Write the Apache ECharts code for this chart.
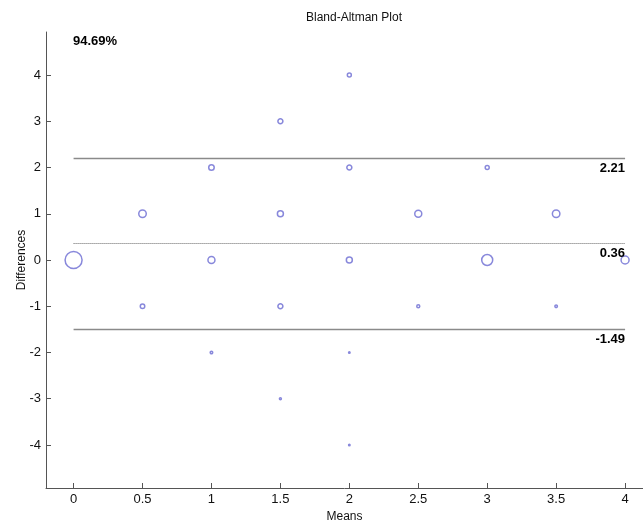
<!DOCTYPE html>
<html>
<head>
<meta charset="utf-8">
<script src="https://cdn.jsdelivr.net/npm/echarts@6/dist/echarts.min.js"></script>
<style>html,body{margin:0;padding:0;background:#fff;}#c{width:643px;height:521px;}</style>
</head>
<body>
<div id="c"></div>
<script>
// Data
const means = [0, 0.5, 0.5, 1, 1, 1, 1.5, 1.5, 1.5, 1.5, 2, 2, 2, 2, 2, 2.5, 2.5, 3, 3, 3.5, 3.5, 4];
const diffs = [0, 1, -1, 2, 0, -2, 3, 1, -1, -3, 4, 2, 0, -2, -4, 1, -1, 2, 0, 1, -1, 0];
const weights = [17, 7.5, 4.5, 5.5, 7, 2.5, 5, 6, 5, 2, 4, 5, 6, 1.5, 1.5, 7, 3, 4, 11, 7.5, 2.5, 8];
const limitValues = [2.21, 0.36, -1.49];
const limitLabels = ['2.21', '0.36', '-1.49'];
const xTicks = [0, 0.5, 1, 1.5, 2, 2.5, 3, 3.5, 4];
const yTicks = [-4, -3, -2, -1, 0, 1, 2, 3, 4];
const agreementText = '94.69%';
const titleText = 'Bland-Altman Plot';
const lineStart = 0, lineEnd = 4;

const FONT = '"Liberation Sans", Arial, sans-serif';
const chart = echarts.init(document.getElementById('c'), null, {renderer: 'canvas'});

const points = means.map((m, i) => ({value: [m, diffs[i]], symbolSize: weights[i]}));

const limitStyles = [
  {color: '#8a8a8a', width: 1.4, type: 'solid'},
  {color: '#666', width: 1, type: [1, 1]},
  {color: '#8a8a8a', width: 1.4, type: 'solid'}
];

const markData = limitValues.map((v, i) => [
  {coord: [lineStart, v], lineStyle: limitStyles[i],
   label: {show: true, formatter: limitLabels[i], position: 'insideEndBottom', distance: [0, 4],
           color: '#000', fontWeight: 'bold', fontSize: 13, fontFamily: FONT}},
  {coord: [lineEnd, v]}
]);

chart.setOption({
  animation: false,
  backgroundColor: '#fff',
  title: {
    text: titleText, left: 349, top: 7, textAlign: 'center',
    textStyle: {fontFamily: FONT, fontSize: 12, fontWeight: 'normal', color: '#111'}
  },
  grid: {left: 46, top: 32, bottom: 33, right: 0, containLabel: false, outerBoundsMode: 'none'},
  xAxis: {
    type: 'value', min: -0.2, max: 4.13,
    name: 'Means', nameLocation: 'middle', nameGap: 23, nameMoveOverlap: false,
    nameTextStyle: {fontFamily: FONT, fontSize: 12, color: '#111'},
    axisLine: {show: true, onZero: false, lineStyle: {color: '#555', width: 1}},
    axisTick: {show: true, inside: true, length: 5, customValues: xTicks, lineStyle: {color: '#555'}},
    axisLabel: {customValues: xTicks, fontFamily: FONT, fontSize: 13, color: '#111', margin: 5,
                formatter: v => String(v)},
    splitLine: {show: false}
  },
  yAxis: {
    type: 'value', min: -4.93, max: 4.93,
    name: 'Differences', nameLocation: 'middle', nameGap: 18, nameRotate: 90, nameMoveOverlap: false,
    nameTextStyle: {fontFamily: FONT, fontSize: 12, color: '#111'},
    axisLine: {show: true, onZero: false, lineStyle: {color: '#555', width: 1}},
    axisTick: {show: true, inside: true, length: 5, customValues: yTicks, lineStyle: {color: '#555'}},
    axisLabel: {customValues: yTicks, fontFamily: FONT, fontSize: 13, color: '#111', margin: 5},
    splitLine: {show: false}
  },
  graphic: [{
    type: 'text', left: 73, top: 35,
    style: {text: agreementText, font: 'bold 13px ' + FONT, fill: '#000'}
  }],
  series: [
    {
      type: 'line', data: [], silent: true,
      markLine: {symbol: 'none', silent: true, animation: false, data: markData}
    },
    {
      type: 'scatter', data: points, clip: false,
      itemStyle: {color: 'rgba(255,255,255,0)', borderColor: '#6a6ad2', borderWidth: 1.5}
    }
  ]
});
</script>
</body>
</html>
